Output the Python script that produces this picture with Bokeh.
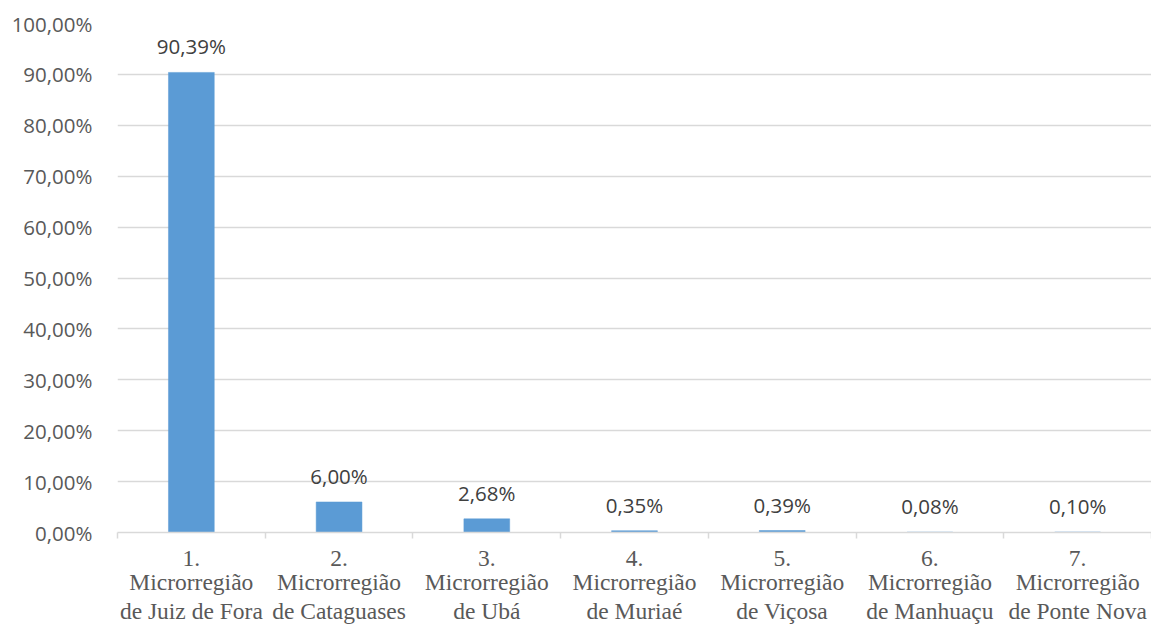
from bokeh.plotting import figure
from bokeh.models import (ColumnDataSource, Range1d, FixedTicker, LabelSet,
                          LinearAxis)
from bokeh.core.properties import value
from bokeh.embed import file_html
from bokeh.resources import INLINE

# Share of each microregion (%)
numbers = ["1.", "2.", "3.", "4.", "5.", "6.", "7."]
prefix = ["Microrregião"] * 7
names = ["de Juiz de Fora", "de Cataguases", "de Ubá", "de Muriaé",
         "de Viçosa", "de Manhuaçu", "de Ponte Nova"]
shares = [90.39, 6.00, 2.68, 0.35, 0.39, 0.08, 0.10]
y_ticks = [0, 10, 20, 30, 40, 50, 60, 70, 80, 90, 100]

n = len(names)
centers = [i + 0.5 for i in range(n)]
bounds = list(range(n + 1))
labels = [f"{v:.2f}".replace(".", ",") + "%" for v in shares]

src = ColumnDataSource(dict(x=centers, top=shares, label=labels))

p = figure(width=1151, height=626, output_backend="svg", toolbar_location=None,
           x_range=Range1d(0, n), y_range=Range1d(0, 100),
           x_axis_location=None, y_axis_location=None,
           min_border_left=117, min_border_right=0, min_border_top=23,
           min_border_bottom=94)
p.outline_line_color = None
p.background_fill_color = "white"
p.border_fill_color = "white"

p.vbar(x="x", top="top", width=0.31, bottom=0, source=src,
       fill_color="#5B9BD5", line_color="#5B9BD5", line_width=0.5)

# Value labels above the bars
p.add_layout(LabelSet(x="x", y="top", text="label", source=src,
                      text_align="center", text_baseline="alphabetic",
                      y_offset=18, text_font=value("Open Sans"),
                      text_font_size="20.5px", text_color="#404040"))

# Y axis with percentage labels
yaxis = LinearAxis(ticker=FixedTicker(ticks=y_ticks))
yaxis.major_label_overrides = {t: f"{t},00%" for t in y_ticks}
yaxis.axis_line_color = None
yaxis.major_tick_line_color = None
yaxis.minor_tick_line_color = None
yaxis.major_label_standoff = 19
yaxis.major_label_text_font = "Open Sans"
yaxis.major_label_text_font_size = "20.5px"
yaxis.major_label_text_color = "#595959"
p.add_layout(yaxis, "left")


def category_axis(lines, first):
    ax = LinearAxis(ticker=FixedTicker(ticks=centers,
                                       minor_ticks=bounds if first else []))
    ax.major_label_overrides = {c: t for c, t in zip(centers, lines)}
    ax.major_tick_line_color = None
    ax.major_tick_in = 0
    ax.major_tick_out = 0
    ax.minor_tick_in = 0
    if first:
        ax.axis_line_color = "#D9D9D9"
        ax.axis_line_width = 1.5
        ax.minor_tick_line_color = "#D9D9D9"
        ax.minor_tick_line_width = 1.5
        ax.minor_tick_out = 6
        ax.major_label_standoff = 12
    else:
        ax.axis_line_color = None
        ax.minor_tick_line_color = None
        ax.minor_tick_out = 0
        ax.major_label_standoff = 0
    ax.major_label_text_font = "Liberation Serif"
    ax.major_label_text_font_size = "23.5px"
    ax.major_label_text_color = "#595959"
    return ax


# X axis: boundary ticks, then three lines of category text
p.add_layout(category_axis(numbers, True), "below")
p.add_layout(category_axis(prefix, False), "below")
p.add_layout(category_axis(names, False), "below")

p.xgrid.visible = False
p.ygrid.ticker = FixedTicker(ticks=y_ticks)
p.ygrid.grid_line_color = "#D9D9D9"
p.ygrid.grid_line_width = 1.5

open("out.html", "w").write(file_html(p, INLINE))
